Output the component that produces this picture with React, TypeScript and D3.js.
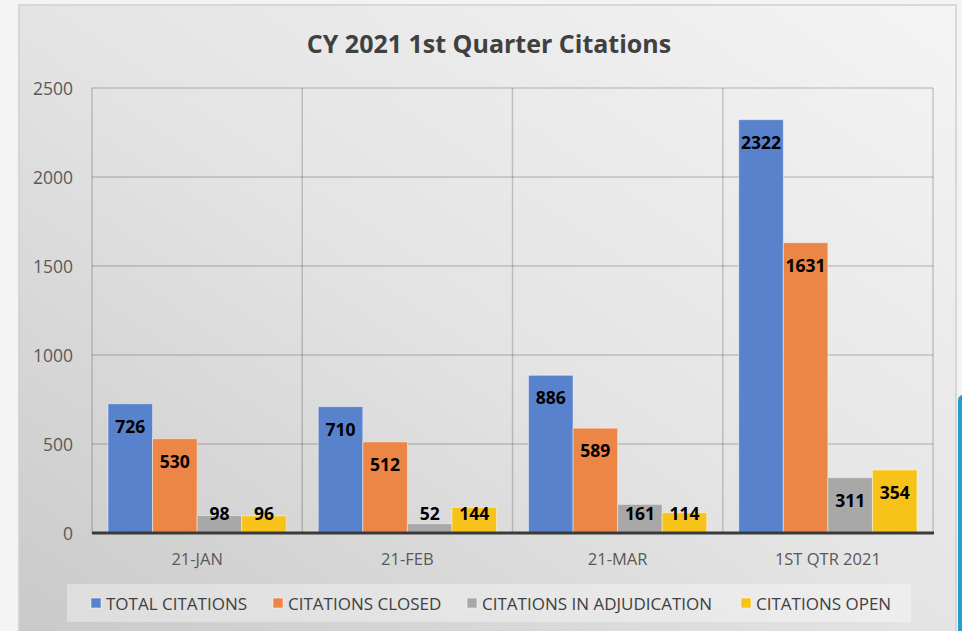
import React from "react";
import * as d3 from "d3";

const categories = ["21-JAN", "21-FEB", "21-MAR", "1ST QTR 2021"];
const seriesNames = ["TOTAL CITATIONS", "CITATIONS CLOSED", "CITATIONS IN ADJUDICATION", "CITATIONS OPEN"];
const totalCitations = [726, 710, 886, 2322];
const citationsClosed = [530, 512, 589, 1631];
const citationsAdjudication = [98, 52, 161, 311];
const citationsOpen = [96, 144, 114, 354];
const yTicks = [0, 500, 1000, 1500, 2000, 2500];
const colors = ["#5882cb", "#ec8646", "#a8a8a8", "#f7c31a"];

const seriesValues = [totalCitations, citationsClosed, citationsAdjudication, citationsOpen];

const W = 962;
const H = 631;
const plot = { left: 92, right: 933, top: 88, bottom: 533 };
const legendX = [91, 273, 467, 741];

export default function App() {
  const x = d3.scaleBand<string>().domain(categories).range([plot.left, plot.right]).padding(0);
  const xs = d3.scaleBand<string>().domain(seriesNames).range([16, x.bandwidth() - 16]).padding(0);
  const y = d3.scaleLinear().domain([0, 2500]).range([plot.bottom, plot.top]);
  const font = "'Open Sans', 'DejaVu Sans', sans-serif";

  return (
    <svg width={W} height={H} style={{ position: "absolute", left: 0, top: 0, display: "block" }} fontFamily={font}>
      <defs>
        <linearGradient id="bg" x1="1" y1="0" x2="0" y2="1">
          <stop offset="0" stopColor="#f4f4f4" />
          <stop offset="0.5" stopColor="#e4e4e4" />
          <stop offset="1" stopColor="#c9c9c9" />
        </linearGradient>
      </defs>
      <rect x={0} y={0} width={W} height={H} fill="#f3f3f3" />
      <rect x={19} y={5} width={937} height={640} fill="url(#bg)" stroke="#cfcfcf" strokeWidth={1.5} />
      <rect x={958} y={395} width={12} height={250} rx={5} fill="#2b9ad2" />

      <text x={489} y={53} textAnchor="middle" fontSize={25} fontWeight="bold" fill="#404040">
        CY 2021 1st Quarter Citations
      </text>

      {yTicks.filter((t) => t > 0).map((t) => (
        <line key={"g" + t} x1={plot.left} x2={plot.right} y1={y(t)} y2={y(t)} stroke="#000" strokeOpacity={0.18} strokeWidth={1.5} />
      ))}
      {d3.range(categories.length + 1).map((i) => {
        const xv = i < categories.length ? (x(categories[i]) as number) : plot.right;
        return <line key={"v" + i} x1={xv} x2={xv} y1={plot.top} y2={plot.bottom} stroke="#000" strokeOpacity={0.18} strokeWidth={1.5} />;
      })}

      {yTicks.map((t) => (
        <text key={"t" + t} x={73} y={y(t)} textAnchor="end" dominantBaseline="central" fontSize={17.5} fill="#595959">
          {t}
        </text>
      ))}

      {categories.map((c, ci) => (
        <g key={c} transform={`translate(${x(c)},0)`}>
          {seriesNames.map((s, si) => {
            const v = seriesValues[si][ci];
            const bx = xs(s) as number;
            const top = y(v);
            const cy = Math.min(top + 22, y(0) - 20);
            return (
              <g key={s}>
                <rect x={bx} y={top} width={xs.bandwidth()} height={y(0) - top} fill={colors[si]} stroke="#ffffff" strokeOpacity={0.45} strokeWidth={1} />
                <text x={bx + xs.bandwidth() / 2} y={cy} textAnchor="middle" dominantBaseline="central" fontSize={17.5} fontWeight="bold" fill="#000">
                  {v}
                </text>
              </g>
            );
          })}
          <text x={x.bandwidth() / 2} y={558} textAnchor="middle" dominantBaseline="central" fontSize={16.5} fill="#595959">
            {c}
          </text>
        </g>
      ))}

      <line x1={plot.left} x2={plot.right + 1} y1={y(0)} y2={y(0)} stroke="#3a3a3a" strokeWidth={3} />

      <rect x={67} y={584} width={844} height={38} fill="#ffffff" fillOpacity={0.35} />
      {seriesNames.map((s, i) => (
        <g key={"l" + s} transform={`translate(${legendX[i]},603)`}>
          <rect x={0} y={-5} width={10} height={10} fill={colors[i]} stroke="#fff" strokeOpacity={0.5} />
          <text x={15} y={0} dominantBaseline="central" fontSize={17} fill="#404040">
            {s}
          </text>
        </g>
      ))}
    </svg>
  );
}
